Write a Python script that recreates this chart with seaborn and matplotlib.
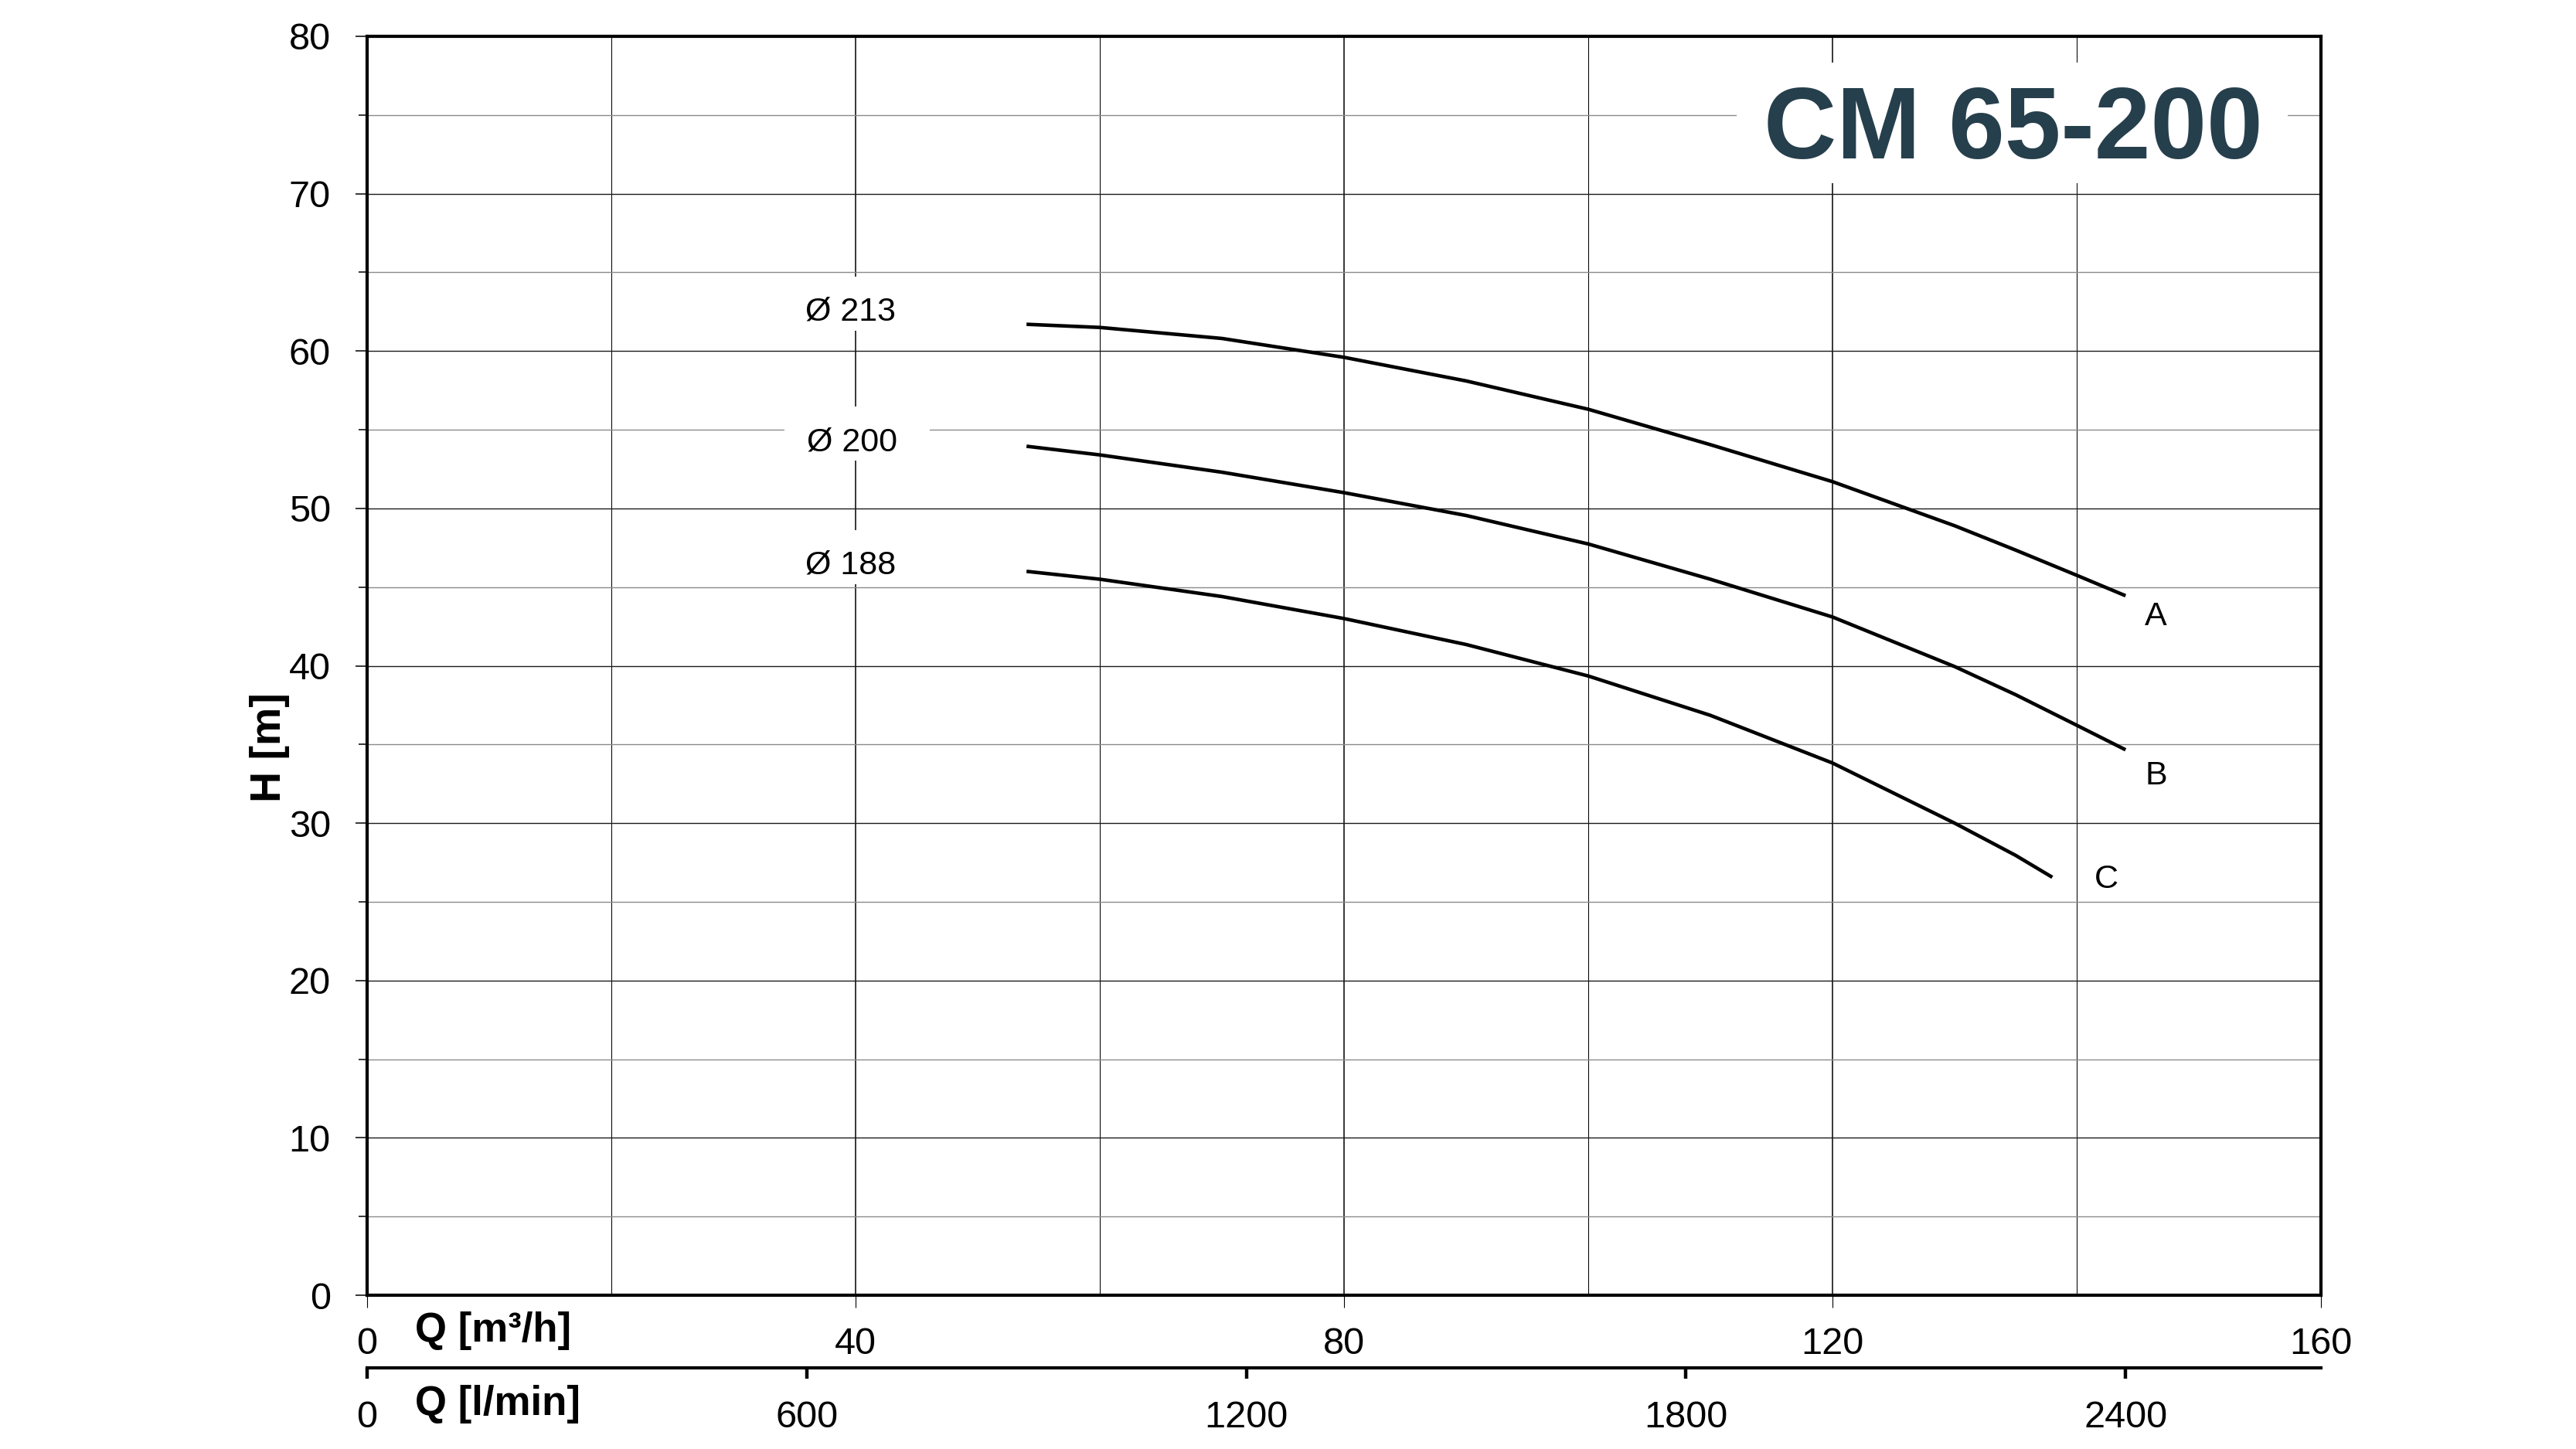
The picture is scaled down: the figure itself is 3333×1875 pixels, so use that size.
import numpy as np
import pandas as pd
import matplotlib
matplotlib.use("Agg")
import matplotlib.pyplot as plt
import seaborn as sns
from matplotlib.patches import Rectangle
from matplotlib.ticker import MultipleLocator

# ---------------- data ----------------
curve_names = ["A", "B", "C"]
q_A = [54, 60, 70, 80, 90, 100, 110, 120, 130, 135, 140, 144]
h_A = [61.7, 61.5, 60.8, 59.6, 58.1, 56.3, 54.05, 51.7, 48.9, 47.35, 45.75, 44.45]
q_B = [54, 60, 70, 80, 90, 100, 110, 120, 130, 135, 140, 144]
h_B = [53.95, 53.4, 52.3, 51.0, 49.55, 47.74, 45.5, 43.1, 39.95, 38.16, 36.22, 34.66]
q_C = [54, 60, 70, 80, 90, 100, 110, 120, 130, 135, 138]
h_C = [46.0, 45.5, 44.4, 43.0, 41.35, 39.35, 36.85, 33.82, 30.0, 27.95, 26.56]

diam_labels = ["Ø 213", "Ø 200", "Ø 188"]
diam_q = [39.6, 39.7, 39.6]
diam_h = [62.67, 54.40, 46.56]

end_labels = ["A", "B", "C"]
end_q = [146.5, 146.5, 142.4]
end_h = [43.3, 33.2, 26.6]

x_ticks_m3h = [0, 40, 80, 120, 160]
x_ticks_lmin = [0, 600, 1200, 1800, 2400]
y_ticks = [0, 10, 20, 30, 40, 50, 60, 70, 80]
title = "CM 65-200"

df = pd.concat([
    pd.DataFrame({"Q": q_A, "H": h_A, "curve": "A"}),
    pd.DataFrame({"Q": q_B, "H": h_B, "curve": "B"}),
    pd.DataFrame({"Q": q_C, "H": h_C, "curve": "C"}),
], ignore_index=True)

# ---------------- style ----------------
sns.set_style("white")
plt.rcParams["font.family"] = ["Liberation Sans", "DejaVu Sans"]

W, H = 3333, 1875
fig = plt.figure(figsize=(W / 100, H / 100), dpi=100)
L, R, T, B = 475, 3003, 47, 1676
ax = fig.add_axes([L / W, 1 - B / H, (R - L) / W, (B - T) / H])

sns.lineplot(data=df, x="Q", y="H", hue="curve", sort=False, estimator=None,
             palette={"A": "black", "B": "black", "C": "black"},
             linewidth=3.3, legend=False, ax=ax, solid_capstyle="butt",
             solid_joinstyle="round")

ax.set_xlim(0, 160)
ax.set_ylim(0, 80)
ax.set_xticks(x_ticks_m3h)
ax.set_yticks(y_ticks)
ax.xaxis.set_minor_locator(MultipleLocator(20))
ax.yaxis.set_minor_locator(MultipleLocator(5))
ax.set_xlabel("")
ax.set_ylabel("")

ax.set_axisbelow(True)
ax.grid(which="major", axis="y", color="#1a1a1a", linewidth=1.0)
ax.grid(which="minor", axis="y", color="#8a8a8a", linewidth=1.0)
ax.grid(which="major", axis="x", color="black", linewidth=1.1)
ax.grid(which="minor", axis="x", color="black", linewidth=0.75)

for s in ax.spines.values():
    s.set_visible(True)
    s.set_linewidth(3.0)
    s.set_color("black")

ax.tick_params(axis="y", which="major", direction="out", length=11, width=1.1,
               labelsize=35, pad=23, colors="black", left=True)
ax.tick_params(axis="y", which="minor", direction="out", length=8, width=1.1,
               colors="black", left=True)
ax.tick_params(axis="x", which="major", direction="out", length=11.5, width=0.8,
               labelsize=35, pad=18, colors="black", bottom=True)
ax.tick_params(axis="x", which="minor", length=0)

# secondary axis in l/min
sec = ax.secondary_xaxis(-(1770 - B) / (B - T),
                         functions=(lambda q: q * 1000 / 60, lambda l: l * 60 / 1000))
sec.set_xticks(x_ticks_lmin)
sec.spines["bottom"].set_linewidth(3.0)
sec.spines["bottom"].set_color("black")
sec.tick_params(axis="x", which="major", direction="out", length=10, width=3.2,
                labelsize=35, pad=20, colors="black")
sec.tick_params(axis="x", which="minor", length=0)

# diameter labels with white boxes
for lab, q, h in zip(diam_labels, diam_q, diam_h):
    ax.add_patch(Rectangle((q - 5.5, h - 1.37), 11.9, 3.43, facecolor="white",
                           edgecolor="none", zorder=2))
    ax.text(q, h - 0.2, lab, ha="center", va="center", fontsize=31,
            color="black", zorder=3)

# curve end labels
for lab, q, h in zip(end_labels, end_q, end_h):
    ax.text(q, h - 0.2, lab, ha="center", va="center", fontsize=31,
            color="black", zorder=3)

# title with white box
ax.add_patch(Rectangle(((2247 - L) / (R - L), (B - 237) / (B - T)),
                       (2960 - 2247) / (R - L), (237 - 81) / (B - T),
                       transform=ax.transAxes, facecolor="white",
                       edgecolor="none", zorder=2))
fig.text(2605 / W, 1 - 205 / H, title, ha="center", va="baseline",
         fontsize=94, fontweight="bold", color="#263F4C")

# axis labels
fig.text(349 / W, 1 - 967 / H, "H [m]", rotation=90, ha="center", va="center",
         fontsize=40, fontweight="bold", color="black")
fig.text(537 / W, 1 - 1722 / H, "Q [m³/h]", ha="left", va="center",
         fontsize=38, fontweight="bold", color="black")
fig.text(537 / W, 1 - 1817 / H, "Q [l/min]", ha="left", va="center",
         fontsize=38, fontweight="bold", color="black")

fig.savefig("out.png", dpi=100, facecolor="white")
